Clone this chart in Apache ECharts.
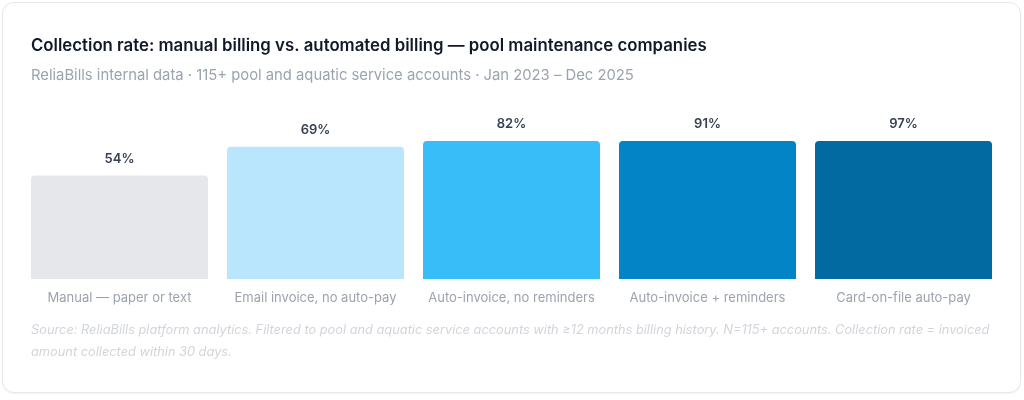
<!DOCTYPE html>
<html>
<head>
<meta charset="utf-8">
<script src="https://cdn.jsdelivr.net/npm/echarts@6/dist/echarts.min.js"></script>
<style>
  html, body { margin: 0; padding: 0; background: #fff; }
  .card {
    position: absolute; left: 2px; top: 2px; width: 1017px; height: 389px;
    border: 1px solid #e5e7eb; border-radius: 12px; background: #fff;
    box-shadow: 0 1px 2px rgba(0,0,0,0.05);
  }
  .chart { position: absolute; left: 0; top: 0; width: 1024px; height: 400px; }
</style>
</head>
<body>
<div class="card"></div>
<div class="chart"></div>
<script>
// 数据
const categories = ["Manual — paper or text", "Email invoice, no auto-pay", "Auto-invoice, no reminders", "Auto-invoice + reminders", "Card-on-file auto-pay"];
const rates = [54, 69, 82, 91, 97];
const barColors = ["#e5e7eb", "#bae6fd", "#38bdf8", "#0284c7", "#0369a1"];

const titleText = "Collection rate: manual billing vs. automated billing — pool maintenance companies";
const subText = "ReliaBills internal data · 115+ pool and aquatic service accounts · Jan 2023 – Dec 2025";
const noteText = "Source: ReliaBills platform analytics. Filtered to pool and aquatic service accounts with ≥12 months billing history. N=115+ accounts. Collection rate = invoiced amount collected within 30 days.";

var myChart = echarts.init(document.querySelector(".chart"));
var option = {
    backgroundColor: "transparent",
    textStyle: { fontFamily: "Inter" },
    title: [
        {
            text: titleText,
            left: 31, top: 37, padding: 0,
            textStyle: { fontSize: 16.8, fontWeight: 600, color: "#111827", fontFamily: "Inter" }
        },
        {
            text: subText,
            left: 31, top: 68, padding: 0,
            textStyle: { fontSize: 14.8, fontWeight: 400, color: "#9ca3af", fontFamily: "Inter" }
        },
        {
            text: noteText,
            left: 31, top: 319, padding: 0,
            textStyle: {
                fontSize: 12.8, fontStyle: "italic", fontWeight: 400, color: "#d1d5db",
                fontFamily: "Inter", width: 985, overflow: "break", lineHeight: 22
            }
        }
    ],
    grid: { left: 21.5, right: 22.5, top: 141, bottom: 121, containLabel: false },
    xAxis: {
        type: "category",
        data: categories,
        axisLine: { show: false },
        axisTick: { show: false },
        axisLabel: { color: "#9ca3af", fontSize: 13, margin: 13, interval: 0 }
    },
    yAxis: {
        type: "value",
        min: 0,
        max: 72,
        show: false,
        splitLine: { show: false }
    },
    series: [{
        type: "bar",
        data: rates.map((v, i) => ({ value: v, itemStyle: { color: barColors[i] } })),
        barWidth: 177,
        clip: true,
        itemStyle: { borderRadius: [4, 4, 0, 0] },
        label: {
            show: true,
            position: "top",
            distance: 10,
            color: "#374151",
            fontSize: 13,
            fontWeight: 600,
            formatter: p => p.value + "%"
        },
        animation: false
    }]
};
myChart.setOption(option);
</script>
</body>
</html>
